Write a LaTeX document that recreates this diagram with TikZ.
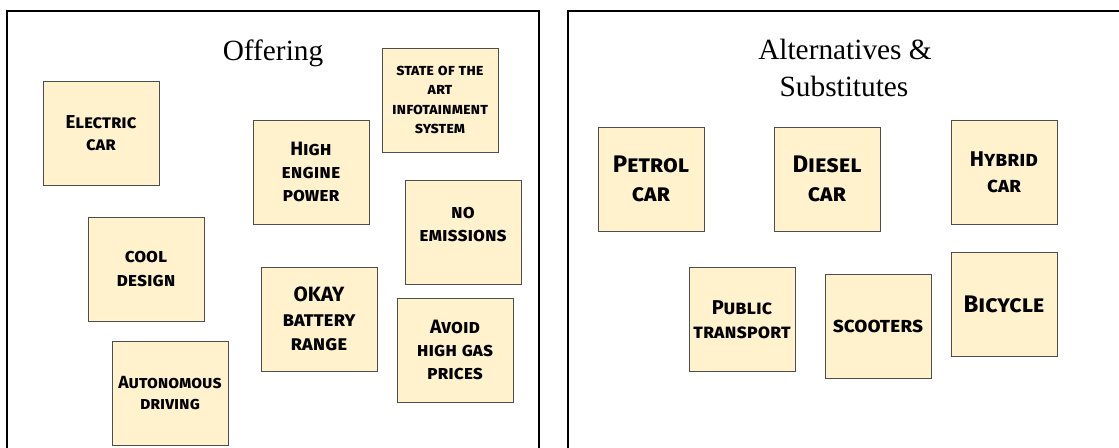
\documentclass[tikz,border=0pt]{standalone}
\usepackage{fontspec}
\setmainfont{Liberation Serif}
\newfontfamily\notefont{Fira Sans}[Letters=SmallCaps]
\usetikzlibrary{shadows}
\definecolor{noteFill}{HTML}{FFF2CC}
\definecolor{noteLine}{HTML}{4D4D4D}

\begin{document}
\begin{tikzpicture}
[panelDecorate/.style={draw=black,line width=1.3pt},%
  titleDecorate/.style={font=\fontsize{22}{27}\selectfont,anchor=base,inner sep=0pt},%
  noteDecorate/.style={shape=rectangle,draw=noteLine,line width=0.7pt,fill=noteFill,%
    align=center,inner sep=0pt,minimum height=78pt,%
    drop shadow={shadow xshift=0.7pt,shadow yshift=-0.7pt,opacity=0.35}},%
  offerDecorate/.style={noteDecorate,minimum width=87pt},%
  altDecorate/.style={noteDecorate,minimum width=79.5pt},%
  x=0.75pt,y=-0.75pt]
\useasboundingbox (0,0) rectangle (1119,448);
\clip (0,0) rectangle (1119,448);
%% panels
\draw[panelDecorate] (7,11) rectangle (539,470);
\draw[panelDecorate] (568,11) rectangle (1140,470);
%% titles
\node (offering) at (273,61) [titleDecorate] {Offering};
\node (alternatives) at (845,60) [titleDecorate] {Alternatives \&};
\node (substitutes) at (844,97) [titleDecorate] {Substitutes};
%% offering notes
\foreach \nodename/\x/\y/\fs/\txt in {electric/101/133/14/{Electric\\car},
  infotainment/440/100/12/{state of the\\art\\infotainment\\system},
  engine/311/172/14.5/{High\\engine\\power},
  emissions/463/232/14.5/{no\\emissions\\[-6pt]},
  design/146/269/14.5/{cool\\design},
  battery/319/319/15.5/{OKAY\\battery\\range},
  gas/455/350/14.5/{Avoid\\high gas\\prices},
  driving/170/393/13.2/{Autonomous\\driving}}
{
  \pgfmathsetmacro\noteSkip{1.2*\fs}
  \node (\nodename) at (\x,\y) [offerDecorate,font=\notefont\bfseries\fontsize{\fs}{\noteSkip}\selectfont] {\txt};
}
%% alternative notes
\foreach \nodename/\x/\y/\fs/\txt in {petrol/651/179/18/{Petrol\\car},
  diesel/827/179/18/{Diesel\\car},
  hybrid/1004/172/16/{Hybrid\\car},
  public/742/319.5/15/{Public\\transport},
  scooters/878/326.5/16/{scooters},
  bicycle/1004/304.5/18/{Bicycle}}
{
  \pgfmathsetmacro\noteSkip{1.2*\fs}
  \node (\nodename) at (\x,\y) [altDecorate,font=\notefont\bfseries\fontsize{\fs}{\noteSkip}\selectfont] {\txt};
}
\end{tikzpicture}
\end{document}
